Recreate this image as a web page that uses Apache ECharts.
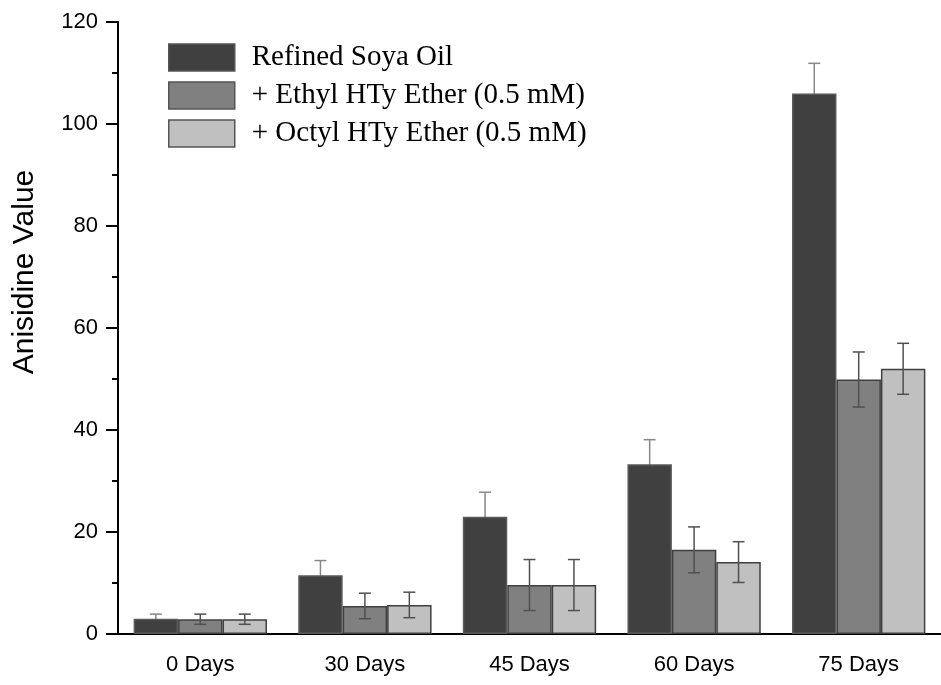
<!DOCTYPE html>
<html><head><meta charset="utf-8">
<script src="https://cdn.jsdelivr.net/npm/echarts@6/dist/echarts.min.js"></script>
<style>html,body{margin:0;padding:0;background:#fff}#c{width:941px;height:685px}</style>
</head><body><div id="c"></div>
<script>
var categories = ['0 Days', '30 Days', '45 Days', '60 Days', '75 Days'];
var seriesNames = ['Refined Soya Oil', '+ Ethyl HTy Ether (0.5 mM)', '+ Octyl HTy Ether (0.5 mM)'];
var soyaValues = [3.0, 11.5, 23.0, 33.3, 106.0];
var soyaErrors = [0.9, 2.9, 4.8, 4.8, 5.9];
var ethylValues = [2.9, 5.5, 9.6, 16.5, 49.9];
var ethylErrors = [1.0, 2.5, 5.0, 4.5, 5.4];
var octylValues = [2.9, 5.7, 9.6, 14.1, 52.0];
var octylErrors = [1.0, 2.5, 5.0, 4.0, 5.0];
var yTicks = [0, 20, 40, 60, 80, 100, 120];
var yTitle = 'Anisidine Value';

var fills = ['#404040', '#808080', '#c0c0c0'];
var borders = ['#5a5a5a', '#404040', '#404040'];
var errColors = ['#888888', '#505050', '#505050'];
var errZ = [1, 5, 5];
var allValues = [soyaValues, ethylValues, octylValues];
var allErrors = [soyaErrors, ethylErrors, octylErrors];
var GAP = 0.19;

var series = [];
allValues.forEach(function (vals, s) {
  series.push({
    name: seriesNames[s], type: 'bar', xAxisIndex: 0,
    barCategoryGap: (GAP * 100) + '%', barGap: '0%',
    itemStyle: { color: fills[s], borderColor: borders[s], borderWidth: 1.5 },
    data: vals, z: 2
  });
});
allValues.forEach(function (vals, s) {
  var errs = allErrors[s];
  series.push({
    type: 'custom', xAxisIndex: 0, z: errZ[s], silent: true,
    data: vals.map(function (v, i) { return [i, v, errs[i]]; }),
    renderItem: function (params, api) {
      var i = api.value(0), v = api.value(1), e = api.value(2);
      var band = api.size([1, 0])[0];
      var bw = band * (1 - GAP) / 3;
      var c = api.coord([i, v]);
      var x = c[0] + (s - 1) * bw;
      var top = api.coord([i, v + e])[1];
      var bot = api.coord([i, v - e])[1];
      var cap = 6;
      var st = { stroke: errColors[s], lineWidth: 1.5 };
      return { type: 'group', children: [
        { type: 'line', shape: { x1: x, y1: top, x2: x, y2: bot }, style: st },
        { type: 'line', shape: { x1: x - cap, y1: top, x2: x + cap, y2: top }, style: st },
        { type: 'line', shape: { x1: x - cap, y1: bot, x2: x + cap, y2: bot }, style: st }
      ]};
    }
  });
});

var chart = echarts.init(document.getElementById('c'));
chart.setOption({
  animation: false,
  backgroundColor: '#fff',
  grid: { left: 118, right: -7, top: 22, bottom: 51 },
  legend: {
    data: seriesNames, orient: 'vertical', left: 163, top: 38,
    icon: 'rect',
    itemWidth: 66, itemHeight: 27, itemGap: 9,
    textStyle: { fontFamily: 'Liberation Serif', fontSize: 29, lineHeight: 27, color: '#000', padding: [0, 0, 0, 12] },
    itemStyle: { borderColor: '#555', borderWidth: 1.5 }
  },
  graphic: [{
    type: 'text', x: 25, y: 272, rotation: Math.PI / 2,
    style: { text: yTitle, fontFamily: 'Liberation Sans', fontSize: 30, fill: '#000', align: 'center', verticalAlign: 'middle' }
  }],
  xAxis: [{
    type: 'category', data: categories,
    axisLine: { lineStyle: { color: '#000', width: 2 } },
    axisTick: { alignWithLabel: true, length: 12, lineStyle: { color: '#000', width: 2 } },
    axisLabel: { fontFamily: 'Liberation Sans', fontSize: 22, color: '#000', margin: 20 }
  }, {
    type: 'category', data: categories, position: 'bottom',
    axisLine: { show: false },
    axisTick: { length: 6, lineStyle: { color: '#000', width: 2 } },
    axisLabel: { show: false }
  }],
  yAxis: {
    type: 'value', min: yTicks[0], max: yTicks[yTicks.length - 1], interval: 20,
    axisLine: { show: true, lineStyle: { color: '#000', width: 2 } },
    axisTick: { show: true, length: 12, lineStyle: { color: '#000', width: 2 } },
    minorTick: { show: true, splitNumber: 2, length: 6, lineStyle: { color: '#000', width: 2 } },
    splitLine: { show: false },
    axisLabel: { fontFamily: 'Liberation Sans', fontSize: 22, color: '#000', margin: 20 }
  },
  series: series
});
</script></body></html>
